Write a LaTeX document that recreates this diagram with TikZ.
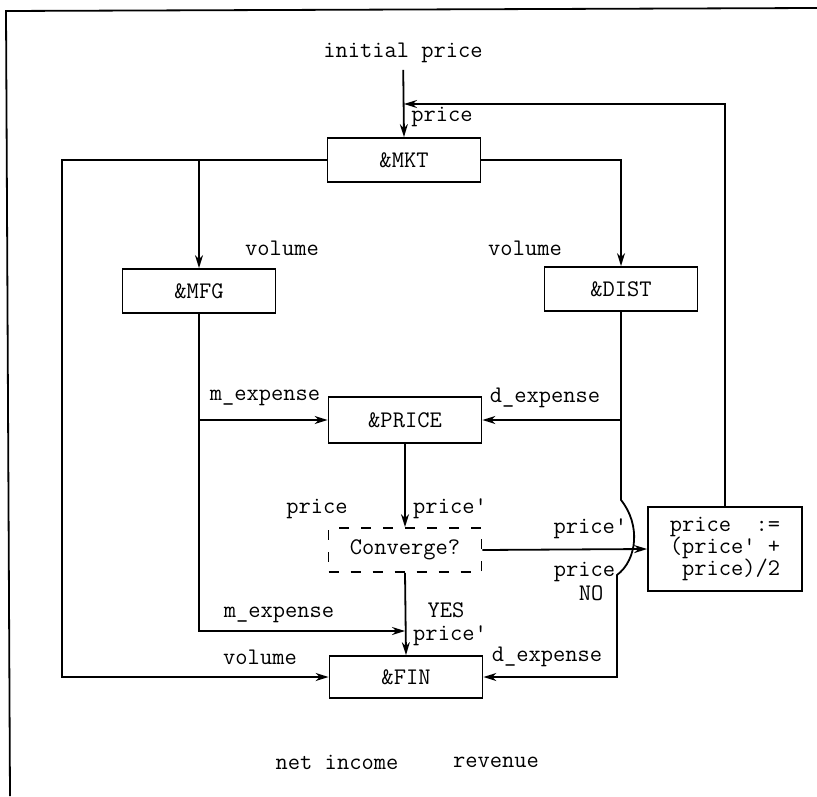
\documentclass[tikz,border=0pt]{standalone}
\usepackage{fontspec}
\usetikzlibrary{arrows.meta}

\begin{document}
\begin{tikzpicture}[x=0.5pt, y=-0.5pt, line width=0.9pt,
  every node/.style={font=\ttfamily\fontsize{11.9}{11}\selectfont},
  box/.style={draw, minimum width=76.5pt, minimum height=22pt, inner sep=0pt},
  dashbox/.style={box, dash pattern=on 5pt off 6pt},
  flow/.style={-{Stealth[length=6.5pt, width=4pt]}},
  lbl/.style={inner sep=0pt}]
  \useasboundingbox (0,0) rectangle (817,796);
  \draw (817,8) -- (6,11) -- (10,796);

  \node[box] (mkt) at (404,160) {\&MKT};
  \node[box] (mfg) at (199,291) {\&MFG};
  \node[box] (dist) at (621,289) {\&DIST};
  \node[box, minimum height=23pt] (price) at (405,420) {\&PRICE};
  \node[dashbox] (conv) at (405,550) {Converge?};
  \node[box, minimum height=21pt] (fin) at (406,677) {\&FIN};
  \node[box, minimum width=77pt, minimum height=42pt, align=left] (upd) at (725,549)
    {price\ \ :=\\(price' +\\\phantom{(}price)/2};

  \node[lbl, inner sep=3pt] (init) at (403,53) {initial price};
  \node[lbl] (lpfb) at (442,117) {price};
  \node[lbl] (lvol1) at (282,248) {volume};
  \node[lbl] (lvol2) at (525,248) {volume};
  \node[lbl] (lmexp1) at (265,398) {m\_expense};
  \node[lbl] (ldexp1) at (545,398) {d\_expense};
  \node[lbl] (lpold) at (317,509) {price};
  \node[lbl] (lpnew) at (450,509) {price'};
  \node[lbl, anchor=east] (lpnew2) at (628,529) {price'};
  \node[lbl, anchor=east] (lpold2) at (616,572) {price};
  \node[lbl] (lno) at (591,593) {NO};
  \node[lbl] (lmexp2) at (279,615) {m\_expense};
  \node[lbl] (lyes) at (446,610) {YES};
  \node[lbl] (lpnew3) at (450,636) {price'};
  \node[lbl] (lvol3) at (260,657) {volume};
  \node[lbl] (ldexp2) at (547,657) {d\_expense};
  \node[lbl] (lnet) at (337,762) {net income};
  \node[lbl] (lrev) at (496,762) {revenue};

  \coordinate (fb) at (404,104);
  \coordinate (lc) at (62,0);
  \coordinate (mj) at (405,631);
  \coordinate (j1) at (621,500);
  \coordinate (j2) at (617,575);

  \draw[flow] (init) -- (mkt.north);
  \draw[flow] (upd.north) |- (fb);
  \draw[flow] (mkt.west) -| (lc |- fin.west) -- (fin.west);
  \draw[flow] (mfg.north |- mkt.west) -- (mfg.north);
  \draw[flow] (mkt.east) -| (dist.north);
  \draw[flow] (mfg.south) |- (mj);
  \draw[flow] (mfg.south |- price.west) -- (price.west);
  \draw[flow] (dist.south |- price.east) -- (price.east);
  \draw[flow] (dist.south) -- (j1) .. controls (641,525) and (637,560) .. (j2) |- (fin.east);
  \draw[flow] (price.south) -- (conv.north);
  \draw[flow] (conv.south) -- (fin.north);
  \draw[flow] (conv.east) -- (upd.west);
\end{tikzpicture}
\end{document}
